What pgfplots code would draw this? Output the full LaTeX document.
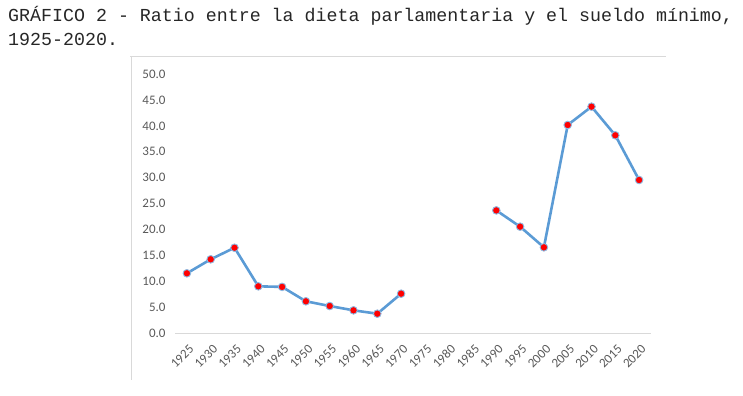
\documentclass[border=0pt]{standalone}
\usepackage{pgfplots}
\pgfplotsset{compat=1.18}
\usepackage{fontspec}
\setmainfont{Carlito}
\newfontfamily\monofont{Liberation Mono}
\definecolor{lineblue}{HTML}{5B9BD5}
\definecolor{ticklabel}{HTML}{595959}
\definecolor{framegray}{HTML}{D9D9D9}
\begin{document}
\begin{tikzpicture}[x=1bp,y=1bp]
\path[use as bounding box] (0,0) rectangle (743,395);
\draw[framegray, line width=1bp] (130,339) -- (666,339);
\draw[framegray, line width=1bp] (131,339) -- (131,15);
\node[anchor=base west, inner sep=0, font=\monofont\fontsize{18.3bp}{24bp}\selectfont, text=black!85] at (8,374) {GRÁFICO 2 - Ratio entre la dieta parlamentaria y el sueldo mínimo,};
\node[anchor=base west, inner sep=0, font=\monofont\fontsize{18.3bp}{24bp}\selectfont, text=black!85] at (8,350) {1925-2020.};
\begin{axis}[
  at={(175bp,61.7bp)}, anchor=south west,
  scale only axis, width=476bp, height=259.3bp,
  xmin=-0.5, xmax=19.5, ymin=0, ymax=50,
  axis x line*=bottom, axis y line*=left,
  x axis line style={draw=framegray, line width=0.8bp, -},
  y axis line style={draw=none},
  major tick length=0pt,
  xtick={0,...,19},
  xticklabels={1925,1930,1935,1940,1945,1950,1955,1960,1965,1970,1975,1980,1985,1990,1995,2000,2005,2010,2015,2020},
  ytick={0,5,...,50},
  /pgf/number format/assume math mode=true,
  y tick label style={/pgf/number format/fixed, /pgf/number format/fixed zerofill, /pgf/number format/precision=1,
    font=\fontsize{13bp}{15bp}\selectfont, text=ticklabel, xshift=-6bp},
  x tick label style={font=\fontsize{13bp}{15bp}\selectfont, text=ticklabel, rotate=45, anchor=east, xshift=-3bp, yshift=-13bp},
  unbounded coords=jump,
  clip=false,
]
\addplot[color=lineblue, line width=2.6bp, mark=*, mark size=3.8bp,
  mark options={fill=red, draw=lineblue!70, line width=0.9bp}]
coordinates {
(0,11.57)(1,14.27)(2,16.5)(3,9.06)(4,8.95)(5,6.17)(6,5.26)(7,4.43)(8,3.78)(9,7.64)
(10,nan)(11,nan)(12,nan)
(13,23.7)(14,20.56)(15,16.58)(16,40.17)(17,43.7)(18,38.18)(19,29.56)
};
\end{axis}
\end{tikzpicture}
\end{document}
